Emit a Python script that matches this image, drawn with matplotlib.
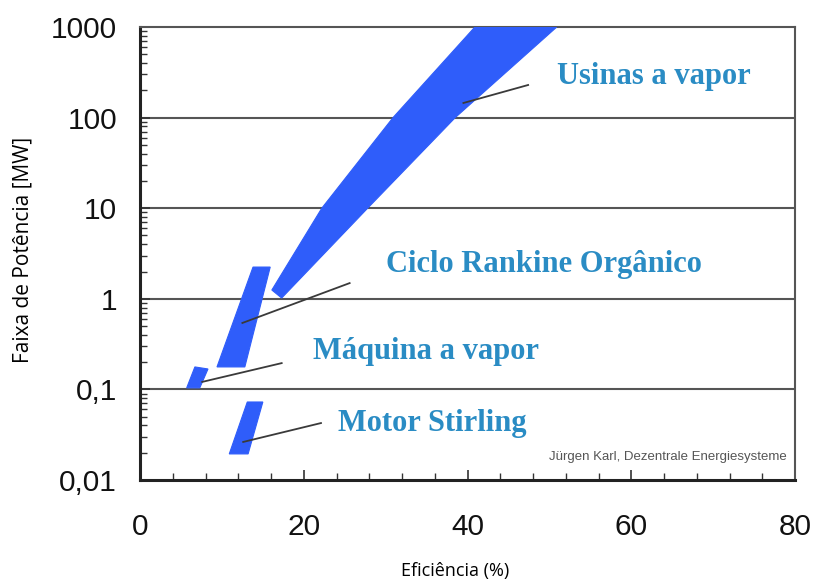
import matplotlib
matplotlib.use("Agg")
import matplotlib.pyplot as plt
from matplotlib.patches import Polygon
from matplotlib.ticker import LogLocator, MultipleLocator, FixedLocator

# Operating ranges (efficiency %, power MW) of each technology, as outlined regions
usinas_eff = [16.1, 22.2, 30.9, 40.9, 50.9, 38.5, 27.8, 17.3]
usinas_pow = [1.25, 10, 100, 1000, 1000, 100, 10, 1.02]

orc_eff = [13.8, 15.9, 12.8, 9.4]
orc_pow = [2.24, 2.24, 0.177, 0.177]

maquina_eff = [6.7, 8.3, 7.3, 5.7]
maquina_pow = [0.177, 0.168, 0.104, 0.104]

stirling_eff = [13.1, 15.0, 13.2, 10.9]
stirling_pow = [0.0726, 0.0726, 0.0194, 0.0194]

# Leader lines: (start eff, start pow) -> (end eff, end pow)
leader_eff = {"usinas": [39.5, 47.4], "orc": [12.5, 25.6],
              "maquina": [7.6, 17.3], "stirling": [12.6, 22.1]}
leader_pow = {"usinas": [145, 229], "orc": [0.541, 1.49],
              "maquina": [0.121, 0.195], "stirling": [0.0263, 0.0425]}

labels = ["Usinas a vapor", "Ciclo Rankine Orgânico", "Máquina a vapor", "Motor Stirling"]
label_eff = [50.9, 30.0, 21.1, 24.2]
label_pow = [281, 2.42, 0.259, 0.0415]

y_ticks = [0.01, 0.1, 1, 10, 100, 1000]
y_ticklabels = ["0,01", "0,1", "1", "10", "100", "1000"]
x_ticks = [0, 20, 40, 60, 80]
x_ticklabels = ["0", "20", "40", "60", "80"]

band_color = "#2F5DFA"
text_color = "#2A8CC4"
grid_color = "#555555"

fig = plt.figure(figsize=(8.17, 5.87), dpi=100)
ax = fig.add_axes([0.1714, 0.1823, 0.8017, 0.7717])
ax.set_yscale("log")
ax.set_xlim(0, 80)
ax.set_ylim(0.01, 1000)

for ex, pw in [(usinas_eff, usinas_pow), (orc_eff, orc_pow),
               (maquina_eff, maquina_pow), (stirling_eff, stirling_pow)]:
    poly = Polygon(list(zip(ex, pw)), closed=True, facecolor=band_color,
                   edgecolor=band_color, linewidth=0.8, zorder=3)
    ax.add_patch(poly)

for key in leader_eff:
    ax.plot(leader_eff[key], leader_pow[key], color="#3a3a3a", lw=1.3, zorder=4)

for txt, ex, pw in zip(labels, label_eff, label_pow):
    ax.text(ex, pw, txt, color=text_color, fontsize=22, fontweight="bold",
            family="Liberation Serif", va="center", ha="left", zorder=5)

ax.text(0.987, 0.051, "Jürgen Karl, Dezentrale Energiesysteme", transform=ax.transAxes,
        fontsize=9.5, color="#555555", ha="right", va="center", family="Liberation Sans")

# Decade grid lines
for v in y_ticks[1:-1]:
    ax.axhline(v, color=grid_color, lw=1.5, zorder=1)

ax.yaxis.set_major_locator(FixedLocator(y_ticks))
ax.yaxis.set_minor_locator(LogLocator(base=10, subs=range(2, 10)))
ax.set_yticklabels(y_ticklabels)
ax.xaxis.set_major_locator(FixedLocator(x_ticks))
ax.xaxis.set_minor_locator(MultipleLocator(4))
ax.set_xticklabels(x_ticklabels)

ax.tick_params(axis="both", which="both", direction="in", colors="#333333",
               labelcolor="#111111", top=False, right=False)
ax.tick_params(axis="both", which="major", length=7, width=1.2, labelsize=21.5)
ax.tick_params(axis="x", which="major", pad=24)
ax.tick_params(axis="y", which="major", pad=16.5)
ax.tick_params(axis="both", which="minor", length=5, width=1.0)
for lab in ax.get_xticklabels() + ax.get_yticklabels():
    lab.set_family("Liberation Sans")

for side in ["left", "bottom"]:
    ax.spines[side].set_linewidth(2.2)
    ax.spines[side].set_color("#222222")
for side in ["top", "right"]:
    ax.spines[side].set_linewidth(1.5)
    ax.spines[side].set_color(grid_color)

ax.set_xlabel("Eficiência (%)", family="Open Sans", fontsize=13)
ax.set_ylabel("Faixa de Potência [MW]", family="Open Sans", fontsize=15)
ax.xaxis.set_label_coords(0.481, -0.180)
ax.yaxis.set_label_coords(-0.163, 0.508)

fig.savefig("out.png", dpi=100)
